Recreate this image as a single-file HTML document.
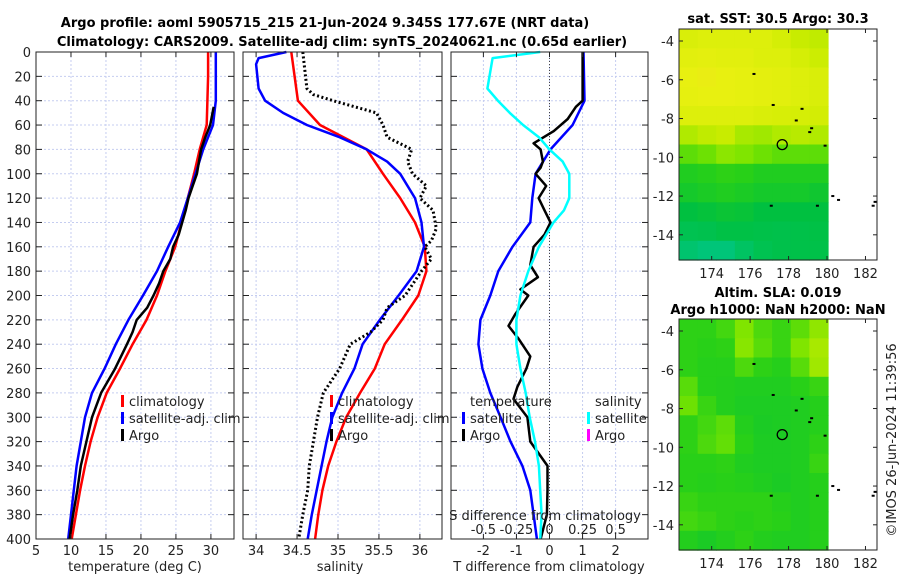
<!DOCTYPE html>
<html><head><meta charset="utf-8">
<style>
html,body{margin:0;padding:0;background:#fff;}
svg{display:block;font-family:"DejaVu Sans","Liberation Sans",sans-serif;}
.t{font-size:13px;fill:#222;}
.b{font-size:13px;font-weight:bold;fill:#000;}
</style></head>
<body>
<svg id="fig" width="900" height="580" viewBox="0 0 900 580" xmlns="http://www.w3.org/2000/svg">
<text class="b" x="325" y="27" text-anchor="middle">Argo profile: aoml 5905715_215 21-Jun-2024 9.345S 177.67E (NRT data)</text>
<text class="b" x="342" y="46" text-anchor="middle">Climatology: CARS2009. Satellite-adj clim: synTS_20240621.nc (0.65d earlier)</text>
<g id="p1"></g>
<g id="p2"></g>
<g id="p3"></g>
<g id="m1"></g>
<g id="m2"></g>
<text class="t" x="0" y="0" transform="translate(896,440) rotate(-90)" text-anchor="middle">©IMOS 26-Jun-2024 11:39:56</text>
</svg>
<script>
// ---------- data ----------
const depths = [0,20,40,60,80,100,120,140,160,180,200,220,240,260,280,300,320,340,360,380,400];
const tempClim = [29.6,29.6,29.5,29.4,28.4,27.6,26.7,25.8,24.9,23.5,22.3,20.8,18.8,17.0,15.1,13.8,12.8,12.0,11.3,10.7,10.1];
const tempSat  = [30.7,30.7,30.7,30.3,28.9,27.8,26.7,25.6,23.9,22.3,20.3,18.2,16.4,14.8,13.0,12.0,11.4,10.8,10.4,10.0,9.6];
const argoDepths = [45,60,70,75,80,90,100,110,120,130,140,150,160,170,180,190,200,210,220,230,240,260,280,300,320,340,360,380,400];
const tempArgo = [30.4,29.9,29.2,28.9,28.6,28.3,28.0,27.4,26.8,26.4,25.9,25.4,24.6,24.2,23.2,22.6,21.8,20.9,19.4,18.8,18.0,16.3,14.3,13.0,12.2,11.4,10.9,10.3,9.8];
const salClim = [34.43,34.47,34.51,34.78,35.35,35.55,35.76,35.94,36.06,36.08,35.98,35.78,35.57,35.45,35.27,35.1,34.98,34.88,34.81,34.76,34.72];
const salSatDepths = [0,5,10,30,40,50,60,70,80,90,100,120,140,160,180,200,220,240,260,280,300,320,340,360,380,400];
const salSat = [34.37,34.03,34.0,34.03,34.11,34.33,34.62,35.02,35.35,35.6,35.76,35.94,36.02,36.05,35.96,35.74,35.51,35.3,35.2,35.05,34.93,34.86,34.8,34.74,34.68,34.63];
const salArgoDepths = [0,30,35,40,50,60,70,80,90,100,110,120,130,145,155,160,170,180,200,210,220,230,240,260,280,300,320,340,360,380,400];
const salArgo = [34.57,34.62,34.7,34.94,35.47,35.55,35.6,35.9,35.85,35.91,36.08,36.0,36.16,36.2,36.14,36.06,36.14,36.02,35.82,35.6,35.55,35.4,35.15,35.02,34.82,34.75,34.7,34.65,34.63,34.57,34.52];
const tdSatDepths = [0,40,60,80,100,120,140,160,180,200,220,240,260,280,300,320,340,360,380,400];
const tdSat = [1.03,1.06,0.7,0.03,-0.42,-0.52,-0.58,-1.12,-1.55,-1.79,-2.09,-2.15,-2.03,-1.79,-1.48,-1.18,-0.82,-0.58,-0.48,-0.38];
const tdArgoDepths = [0,40,45,55,65,72,75,80,90,95,100,110,120,130,140,150,160,175,185,195,200,215,225,235,250,260,275,285,300,320,340,360,380,400];
const tdArgo = [1.0,1.0,0.8,0.55,0.13,-0.3,-0.48,-0.27,-0.2,-0.27,-0.42,-0.1,-0.33,-0.15,0.03,-0.15,-0.48,-0.58,-0.35,-0.88,-0.64,-1.03,-1.24,-0.95,-0.58,-0.7,-0.97,-1.09,-0.67,-0.58,-0.06,-0.06,-0.08,-0.27];
const sdSatDepths = [0,5,30,40,50,60,70,80,90,100,120,130,140,160,180,200,220,240,260,280,300,320,340,360,380,400];
const sdSat = [-0.07,-0.43,-0.47,-0.39,-0.3,-0.2,-0.08,0.0,0.1,0.15,0.15,0.11,0.03,-0.08,-0.16,-0.22,-0.25,-0.25,-0.22,-0.18,-0.15,-0.11,-0.08,-0.07,-0.06,-0.07];
const tempTicks = [5,10,15,20,25,30];
const salTicks = [34,34.5,35,35.5,36];
const tdTicks = [-2,-1,0,1,2];
const sdTicks = [-0.5,-0.25,0,0.25,0.5];
const depthTicks = [0,20,40,60,80,100,120,140,160,180,200,220,240,260,280,300,320,340,360,380,400];
const sstGrid = [
[0.88,0.9,0.9,0.9,0.9,0.86,0.8,0.78],
[0.92,0.93,0.92,0.92,0.9,0.9,0.86,0.82],
[0.95,0.96,0.95,0.94,0.93,0.92,0.9,0.88],
[0.94,0.95,0.95,0.94,0.93,0.92,0.9,0.88],
[0.9,0.9,0.9,0.9,0.88,0.87,0.86,0.85],
[0.74,0.78,0.8,0.72,0.7,0.74,0.76,0.74],
[0.55,0.58,0.65,0.62,0.58,0.55,0.55,0.55],
[0.42,0.44,0.46,0.45,0.42,0.42,0.42,0.42],
[0.38,0.4,0.42,0.4,0.38,0.38,0.38,0.36],
[0.3,0.32,0.34,0.33,0.3,0.3,0.3,0.3],
[0.24,0.25,0.28,0.28,0.27,0.26,0.27,0.28],
[0.14,0.1,0.1,0.18,0.24,0.26,0.27,0.27]];
const slaGrid = [
[0.46,0.46,0.5,0.62,0.52,0.48,0.55,0.66],
[0.46,0.45,0.46,0.64,0.54,0.48,0.62,0.72],
[0.46,0.44,0.44,0.52,0.46,0.44,0.54,0.7],
[0.54,0.44,0.43,0.42,0.42,0.42,0.45,0.48],
[0.58,0.48,0.43,0.41,0.41,0.41,0.42,0.44],
[0.46,0.5,0.55,0.43,0.4,0.41,0.42,0.44],
[0.46,0.52,0.56,0.45,0.41,0.41,0.42,0.46],
[0.45,0.45,0.46,0.42,0.41,0.41,0.42,0.48],
[0.45,0.44,0.45,0.44,0.42,0.4,0.42,0.44],
[0.48,0.46,0.46,0.46,0.46,0.44,0.42,0.44],
[0.5,0.48,0.46,0.45,0.46,0.45,0.42,0.44],
[0.43,0.4,0.43,0.46,0.43,0.42,0.42,0.44]];
const islands = [[176.2,-5.7],[177.2,-7.3],[178.7,-7.5],[178.4,-8.1],[179.2,-8.5],[179.1,-8.7],[179.9,-9.4],[177.1,-12.5],[179.5,-12.5],[180.3,-12.0],[180.6,-12.2],[182.4,-12.5],[182.5,-12.3]];
const argoPos = [177.67,-9.345];
const lonTicks = [174,176,178,180,182];
const latTicks = [-4,-6,-8,-10,-12,-14];

const NS='http://www.w3.org/2000/svg';
function mk(parent,tag,attrs){const e=document.createElementNS(NS,tag);for(const k in attrs)e.setAttribute(k,attrs[k]);parent.appendChild(e);return e;}
const Y0=52,Y1=539;
function yD(d){return Y0+d*(Y1-Y0)/400;}

function panel(g,x0,x1,xmin,xmax,ticks){
  const sx=v=>x0+(v-xmin)/(xmax-xmin)*(x1-x0);
  ticks.forEach(t=>{const l=mk(g,'line',{x1:sx(t),x2:sx(t),y1:Y0,y2:Y1,stroke:'#c5cdf0','stroke-width':1,'stroke-dasharray':'2,2'});
    });
  depthTicks.forEach(d=>{const l=mk(g,'line',{x1:x0,x2:x1,y1:yD(d),y2:yD(d),stroke:'#c5cdf0','stroke-width':1,'stroke-dasharray':'2,2'});
    });
  return sx;
}
function frame(g,x0,x1,ticks,sx,labels,showY){
  const r=mk(g,'rect',{x:x0,y:Y0,width:x1-x0,height:Y1-Y0,fill:'none',stroke:'#222','stroke-width':1});
  
  ticks.forEach((t,i)=>{
    mk(g,'line',{x1:sx(t),x2:sx(t),y1:Y1,y2:Y1-5,stroke:'#222'});
    mk(g,'line',{x1:sx(t),x2:sx(t),y1:Y0,y2:Y0+5,stroke:'#222'});
    if(labels){const tx=mk(g,'text',{x:sx(t),y:555,'text-anchor':'middle',class:'t'});tx.textContent=labels[i];
      }
  });
  depthTicks.forEach(d=>{
    mk(g,'line',{x1:x0,x2:x0+6,y1:yD(d),y2:yD(d),stroke:'#222'});
    mk(g,'line',{x1:x1,x2:x1-6,y1:yD(d),y2:yD(d),stroke:'#222'});
    if(showY){const tx=mk(g,'text',{x:31,y:yD(d)+5,'text-anchor':'end',class:'t'});tx.textContent=d;
      }
  });
}
function line(g,xs,ds,sx,color,w,dash,name){
  const p=xs.map((v,i)=>sx(v).toFixed(1)+','+yD(ds[i]).toFixed(1)).join(' ');
  const a={points:p,fill:'none',stroke:color,'stroke-width':w,'stroke-linejoin':'round'};
  if(dash)a['stroke-dasharray']=dash;
  const e=mk(g,'polyline',a);
  
  
}
function label(g,x,y,txt,name,anchor){const t=mk(g,'text',{x:x,y:y,class:'t','text-anchor':anchor||'start'});t.textContent=txt;
  return t;}
function legBar(g,x,y,color,name){const r=mk(g,'rect',{x:x,y:y-11,width:3,height:12,fill:color});
  }

const g1=document.getElementById('p1');
const sx1=panel(g1,36,234,5,33.3,tempTicks);
line(g1,tempClim,depths,sx1,'#f00',2.5,null,'temp-climatology-line');
line(g1,tempSat,depths,sx1,'#00f',2.5,null,'temp-satellite-line');
line(g1,tempArgo,argoDepths,sx1,'#000',2.5,null,'temp-argo-line');
frame(g1,36,234,tempTicks,sx1,tempTicks.map(String),true);
label(g1,135,571,'temperature (deg C)','x-axis-title','middle');
legBar(g1,121,406,'#f00','legend-climatology-marker');label(g1,129,406,'climatology','legend-climatology');
legBar(g1,121,423,'#00f','legend-satellite-marker');label(g1,129,423,'satellite-adj. clim','legend-satellite');
legBar(g1,121,440,'#000','legend-argo-marker');label(g1,129,440,'Argo','legend-argo');

const g2=document.getElementById('p2');
const sx2=panel(g2,243,442,33.84,36.27,salTicks);
line(g2,salClim,depths,sx2,'#f00',2.5,null,'sal-climatology-line');
line(g2,salSat,salSatDepths,sx2,'#00f',2.5,null,'sal-satellite-line');
line(g2,salArgo,salArgoDepths,sx2,'#000',3,'2,2.5','sal-argo-line');
frame(g2,243,442,salTicks,sx2,salTicks.map(String),false);
label(g2,340,571,'salinity','x-axis-title','middle');
legBar(g2,330,406,'#f00','legend-climatology-marker');label(g2,338,406,'climatology','legend-climatology');
legBar(g2,330,423,'#00f','legend-satellite-marker');label(g2,338,423,'satellite-adj. clim','legend-satellite');
legBar(g2,330,440,'#000','legend-argo-marker');label(g2,338,440,'Argo','legend-argo');

const g3=document.getElementById('p3');
const bg=mk(g3,'rect',{x:451,y:Y0,width:197,height:Y1-Y0,fill:'#fff'});

const sx3=panel(g3,451,648,-2.98,2.98,tdTicks);
const ss3=v=>sx3(v*4);
mk(g3,'line',{x1:sx3(0),x2:sx3(0),y1:Y0,y2:Y1,stroke:'#444','stroke-width':1,'stroke-dasharray':'1,2'});
line(g3,tdSat,tdSatDepths,sx3,'#00f',2.5,null,'tdiff-satellite-line');
line(g3,tdArgo,tdArgoDepths,sx3,'#000',2.5,null,'tdiff-argo-line');
line(g3,sdSat,sdSatDepths,ss3,'#0ff',2.5,null,'sdiff-satellite-line');
frame(g3,451,648,tdTicks,sx3,tdTicks.map(String),false);
label(g3,549,571,'T difference from climatology','x-axis-title','middle');
label(g3,545,520,'S difference from climatology','s-axis-title','middle');
sdTicks.forEach(s=>label(g3,ss3(s),534,String(s),'s-tick-label','middle'));
label(g3,470,406,'temperature','legend-temperature-heading');
legBar(g3,462,423,'#00f','legend-tsat-marker');label(g3,470,423,'satellite','legend-tsat');
legBar(g3,462,440,'#000','legend-targo-marker');label(g3,470,440,'Argo','legend-targo');
label(g3,595,406,'salinity','legend-salinity-heading');
legBar(g3,587,423,'#0ff','legend-ssat-marker');label(g3,595,423,'satellite','legend-ssat');
legBar(g3,587,440,'#f0f','legend-sargo-marker');label(g3,595,440,'Argo','legend-sargo');

function cmap(v){
  const st=[[0,[0,200,150]],[0.3,[0,192,64]],[0.45,[40,208,24]],[0.6,[120,228,0]],[0.8,[200,236,0]],[0.95,[232,240,16]],[1,[240,224,32]]];
  for(let i=1;i<st.length;i++){if(v<=st[i][0]){const a=st[i-1],b=st[i],f=(v-a[0])/(b[0]-a[0]);
    const c=a[1].map((x,k)=>Math.round(x+(b[1][k]-x)*f));return 'rgb('+c.join(',')+')';}}
  return 'rgb(240,224,32)';
}
function map(g,top,grid,t1){
  const L=679,R=877,B=top+231;
  const lon0=172.3,lon1=182.6,lat0=-3.38,lat1=-15.3;
  const mx=v=>L+(v-lon0)/(lon1-lon0)*(R-L);
  const my=v=>top+(v-lat0)/(lat1-lat0)*(B-top);
  const rows=grid.length,cols=grid[0].length;
  const dLat=(lat1-lat0)/rows,dLon=(180.05-lon0)/cols;
  grid.forEach((row,i)=>row.forEach((v,j)=>{
    const x=mx(lon0+j*dLon),y=my(lat0+i*dLat);
    const c=mk(g,'rect',{x:x.toFixed(1),y:y.toFixed(1),width:(mx(lon0+(j+1)*dLon)-x+0.6).toFixed(1),height:(my(lat0+(i+1)*dLat)-y+0.6).toFixed(1),fill:cmap(v)});
    
    
  }));
  islands.forEach(p=>{const d=mk(g,'rect',{x:mx(p[0])-1.5,y:my(p[1])-1,width:3,height:2,fill:'#000'});
    });
  const c=mk(g,'circle',{cx:mx(argoPos[0]),cy:my(argoPos[1]),r:5,fill:'none',stroke:'#000','stroke-width':1.3});
  
  const f=mk(g,'rect',{x:L,y:top,width:R-L,height:B-top,fill:'none',stroke:'#222'});
  
  lonTicks.forEach(t=>{mk(g,'line',{x1:mx(t),x2:mx(t),y1:B,y2:B-4,stroke:'#222'});mk(g,'line',{x1:mx(t),x2:mx(t),y1:top,y2:top+4,stroke:'#222'});
    label(g,mx(t),B+18,String(t),'lon-tick-label','middle');});
  latTicks.forEach(t=>{mk(g,'line',{x1:L,x2:L+4,y1:my(t),y2:my(t),stroke:'#222'});mk(g,'line',{x1:R,x2:R-4,y1:my(t),y2:my(t),stroke:'#222'});
    label(g,L-5,my(t)+5,String(t),'lat-tick-label','end');});
  t1.forEach(t=>{const e=mk(g,'text',{x:778,y:t[1],'text-anchor':'middle',class:'b'});e.textContent=t[0];
    });
}
map(document.getElementById('m1'),29,sstGrid,[['sat. SST: 30.5 Argo: 30.3',23]]);
map(document.getElementById('m2'),319,slaGrid,[['Altim. SLA: 0.019',297],['Argo h1000: NaN h2000: NaN',314]]);
</script>
</body></html>
